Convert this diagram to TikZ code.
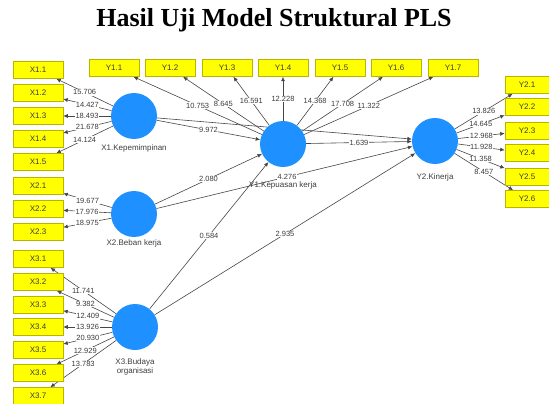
\documentclass[tikz,border=0pt]{standalone}
\usepackage{fontspec}
\setmainfont{Liberation Sans}
\newfontfamily\titlefont{Liberation Serif}
\usepackage{tikz}
\usetikzlibrary{arrows.meta, backgrounds}

\definecolor{plsblue}{RGB}{30,144,255}
\definecolor{plsyellow}{RGB}{255,255,0}
\definecolor{plsedge}{RGB}{185,180,0}
\definecolor{plsline}{RGB}{70,70,70}
\definecolor{plstext}{RGB}{60,60,60}

\begin{document}
\begin{tikzpicture}[x=1pt, y=-1pt]
	
	\tikzset{
		indbox/.style={draw=plsedge, fill=plsyellow, line width=0.5pt,
			minimum width=#1, minimum height=17pt, inner sep=0pt,
			text=plstext, font=\fontsize{8}{9}\selectfont},
		indbox/.default=50pt,
		latent/.style={circle, fill=plsblue, minimum size=46pt, inner sep=0pt},
		latentname/.style={text=plstext, align=center,
			font=\fontsize{8}{9.5}\selectfont},
		conn/.style={draw=plsline, line width=0.6pt,
			-{Latex[length=4.5pt,width=4pt]}},
		val/.style={fill=white, inner sep=0.6pt, text=plstext,
			font=\fontsize{7.5}{8}\selectfont},
	}
	
	\useasboundingbox (0,0) rectangle (549,404);
	
	\node[font=\titlefont\bfseries\fontsize{26}{30}\selectfont] (title) at (274,20) {Hasil Uji Model Struktural PLS};
	
	% latent variables
	\node[latent] (x1) at (134,116) {};
	\node[latent] (x2) at (134,214) {};
	\node[latent] (x3) at (135,327) {};
	\node[latent] (y1) at (283,144) {};
	\node[latent] (y2) at (435,141) {};
	
	\node[latentname] (x1name) at (134,148) {X1.Kepemimpinan};
	\node[latentname] (x2name) at (134,243) {X2.Beban kerja};
	\node[latentname] (x3name) at (135,367) {X3.Budaya\\organisasi};
	\node[latentname] (y1name) at (283,185) {Y1.Kepuasan kerja};
	\node[latentname] (y2name) at (435,177) {Y2.Kinerja};
	
	% indicators with outer loadings
	\foreach \i/\yy/\v in {1/70/15.706, 2/93/14.427, 3/116/18.493, 4/139/21.678, 5/162/14.124}{
		\node[indbox] (x1i\i) at (38,\yy) {X1.\i};
		\begin{scope}[on background layer]
			\draw[conn] (x1) -- node[val] {\v} (x1i\i);
		\end{scope}
	}
	\foreach \i/\yy/\v in {1/186/19.677, 2/209/17.976, 3/232/18.975}{
		\node[indbox] (x2i\i) at (38,\yy) {X2.\i};
		\begin{scope}[on background layer]
			\draw[conn] (x2) -- node[val] {\v} (x2i\i);
		\end{scope}
	}
	\foreach \i/\yy/\v in {1/259/11.741, 2/282/9.382, 3/305/12.409, 4/327/13.926, 5/350/20.930, 6/373/12.929, 7/396/13.783}{
		\node[indbox] (x3i\i) at (38,\yy) {X3.\i};
		\begin{scope}[on background layer]
			\draw[conn] (x3) -- node[val] {\v} (x3i\i);
		\end{scope}
	}
	\foreach \i/\xx/\v in {1/114/10.753, 2/170/8.645, 3/227/16.591, 4/283/12.228, 5/340/14.368, 6/396/17.708, 7/453/11.322}{
		\node[indbox] (y1i\i) at (\xx,68) {Y1.\i};
		\begin{scope}[on background layer]
			\draw[conn] (y1) -- node[val] {\v} (y1i\i);
		\end{scope}
	}
	\foreach \i/\yy/\v in {1/85/13.826, 2/107/14.645, 3/131/12.968, 4/153/11.928, 5/177/11.358, 6/199/8.457}{
		\node[indbox=44pt] (y2i\i) at (527,\yy) {Y2.\i};
		\begin{scope}[on background layer]
			\draw[conn] (y2) -- node[val] {\v} (y2i\i);
		\end{scope}
	}
	
	% inner model
	\begin{scope}[on background layer]
		\draw[conn] (x1) -- (y2);
		\draw[conn] (x1) -- node[val] {9.972} (y1);
		\draw[conn] (x2) -- node[val] {2.080} (y1);
		\draw[conn] (x2) -- node[val, pos=0.51] {4.276} (y2);
		\draw[conn] (x3) -- node[val] {0.584} (y1);
		\draw[conn] (x3) -- node[val] {2.935} (y2);
		\draw[conn] (y1) -- node[val] {1.639} (y2);
	\end{scope}
	
\end{tikzpicture}
\end{document}
